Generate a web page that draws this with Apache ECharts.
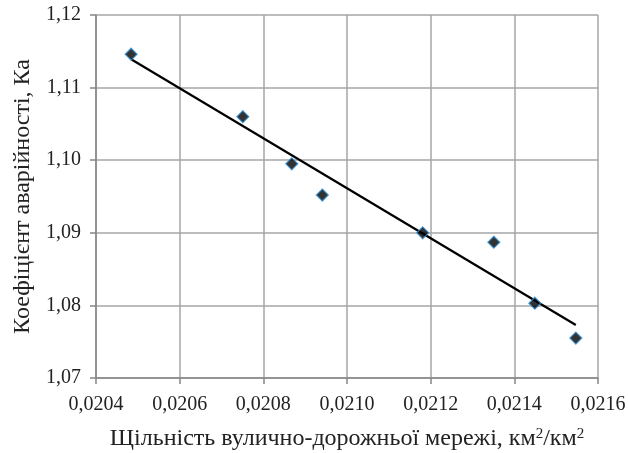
<!DOCTYPE html>
<html><head><meta charset="utf-8">
<script src="https://cdn.jsdelivr.net/npm/echarts@6/dist/echarts.min.js"></script>
<style>html,body{margin:0;padding:0;background:#fff}#c{width:628px;height:453px}</style>
</head><body><div id="c"></div>
<script>
const density = [0.020484, 0.020751, 0.020868, 0.020941, 0.021181, 0.021351, 0.021449, 0.021547];
const accident = [1.1146, 1.1060, 1.0995, 1.0952, 1.0900, 1.0887, 1.0803, 1.0755];
const trendX = [0.020484, 0.021547];
const trendY = [1.1139, 1.0773];
const xTitle = 'Щільність вулично-дорожньої мережі, км{s|2}/км{s|2}';
const yTitle = 'Коефіцієнт аварійності, Ка';

const fmtX = v => v.toFixed(4).replace('.', ',');
const fmtY = v => v.toFixed(2).replace('.', ',');
const font = 'Liberation Serif';

const chart = echarts.init(document.getElementById('c'));
chart.setOption({
  animation: false,
  grid: {left: 96, right: 30, top: 15, bottom: 75, outerBoundsMode: 'none', containLabel: false},
  xAxis: {
    type: 'value', min: 0.0204, max: 0.0216, interval: 0.0002,
    name: xTitle, nameLocation: 'middle', nameGap: 49,
    nameTextStyle: {fontFamily: font, fontSize: 24, color: '#222',
      rich: {s: {fontFamily: font, fontSize: 15, verticalAlign: 'top', padding: [0,0,9,0], color: '#222'}}},
    axisLine: {show: true, lineStyle: {color: '#868686', width: 1.5}},
    axisTick: {show: true, inside: false, length: 6, lineStyle: {color: '#868686', width: 1.5}},
    splitLine: {show: true, lineStyle: {color: '#a6a6a6', width: 1.5}},
    axisLabel: {formatter: fmtX, fontFamily: font, fontSize: 20, color: '#222', margin: 17}
  },
  yAxis: {
    type: 'value', min: 1.07, max: 1.12, interval: 0.01,
    name: yTitle, nameLocation: 'middle', nameGap: 60, nameRotate: 90,
    nameTextStyle: {fontFamily: font, fontSize: 24, color: '#222'},
    axisLine: {show: true, lineStyle: {color: '#868686', width: 1.5}},
    axisTick: {show: true, inside: false, length: 6, lineStyle: {color: '#868686', width: 1.5}},
    splitLine: {show: true, lineStyle: {color: '#a6a6a6', width: 1.5}},
    axisLabel: {formatter: fmtY, fontFamily: font, fontSize: 20, color: '#222', margin: 15}
  },
  series: [
    {
      type: 'line', data: trendX.map((x, i) => [x, trendY[i]]),
      showSymbol: false, symbol: 'none', lineStyle: {color: '#000', width: 2.2}, z: 2
    },
    {
      type: 'scatter', data: density.map((x, i) => [x, accident[i]]),
      symbol: 'diamond', symbolSize: 12,
      itemStyle: {color: '#000', borderColor: '#2b8ed6', borderWidth: 1.2}, z: 3
    }
  ]
});
</script></body></html>
